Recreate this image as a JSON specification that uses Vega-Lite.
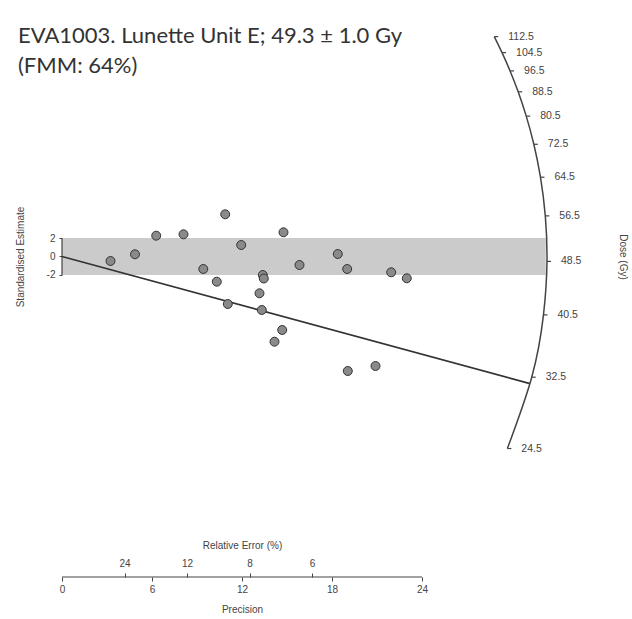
{
  "$schema": "https://vega.github.io/schema/vega-lite/v6.json",
  "width": 570,
  "height": 577,
  "autosize": "none",
  "padding": {"left": 62, "top": 0, "right": 0, "bottom": 42},
  "background": "white",
  "config": {"view": {"stroke": null}, "font": "Liberation Sans"},
  "title": {
    "text": ["EVA1003. Lunette Unit E; 49.3 ± 1.0 Gy", "(FMM: 64%)"],
    "anchor": "start",
    "frame": "group",
    "orient": "top",
    "offset": -95,
    "dx": -44,
    "font": "Lato",
    "fontSize": 22,
    "fontWeight": "normal",
    "color": "#333333",
    "lineHeight": 30,
    "baseline": "alphabetic"
  },
  "datasets": {
    "band": [{"p0": 0, "p1": 32.25, "z0": -2, "z1": 2}],
    "yline": [{"p": 0, "zlo": -2, "zhi": 2}],
    "xline": [{"from": 0, "to": 24}],
    "central": [{"precision": 0, "estimate": 0}, {"precision": 31.2, "estimate": -13.74}],
    "arc": [
      {"dose": 24.5, "precision": 29.691, "estimate": -20.759},
      {"dose": 32.5, "precision": 31.316, "estimate": -13.049},
      {"dose": 40.5, "precision": 32.098, "estimate": -6.311},
      {"dose": 48.5, "precision": 32.332, "estimate": -0.529},
      {"dose": 56.5, "precision": 32.220, "estimate": 4.392},
      {"dose": 64.5, "precision": 31.898, "estimate": 8.572},
      {"dose": 72.5, "precision": 31.456, "estimate": 12.132},
      {"dose": 80.5, "precision": 30.949, "estimate": 15.175},
      {"dose": 88.5, "precision": 30.412, "estimate": 17.806},
      {"dose": 96.5, "precision": 29.872, "estimate": 20.063},
      {"dose": 104.5, "precision": 29.336, "estimate": 22.043},
      {"dose": 112.5, "precision": 28.818, "estimate": 23.776}
    ],
    "aliquots": [
      {"precision": 3.233, "estimate": -0.486},
      {"precision": 4.867, "estimate": 0.238},
      {"precision": 6.280, "estimate": 2.249},
      {"precision": 8.100, "estimate": 2.400},
      {"precision": 9.420, "estimate": -1.351},
      {"precision": 10.320, "estimate": -2.724},
      {"precision": 10.880, "estimate": 4.562},
      {"precision": 11.053, "estimate": -5.135},
      {"precision": 11.947, "estimate": 1.243},
      {"precision": 13.167, "estimate": -3.978},
      {"precision": 13.387, "estimate": -2.0},
      {"precision": 13.453, "estimate": -2.378},
      {"precision": 13.320, "estimate": -5.784},
      {"precision": 14.767, "estimate": 2.616},
      {"precision": 14.680, "estimate": -7.946},
      {"precision": 14.167, "estimate": -9.211},
      {"precision": 15.833, "estimate": -0.919},
      {"precision": 18.387, "estimate": 0.270},
      {"precision": 19.013, "estimate": -1.351},
      {"precision": 19.053, "estimate": -12.378},
      {"precision": 20.900, "estimate": -11.838},
      {"precision": 21.947, "estimate": -1.708},
      {"precision": 22.987, "estimate": -2.357}
    ]
  },
  "resolve": {"axis": {"x": "independent", "y": "independent"}},
  "layer": [
    {
      "data": {"name": "band"},
      "mark": {"type": "rect", "color": "#cbcbcb"},
      "encoding": {
        "x": {
          "field": "p0", "type": "quantitative",
          "scale": {"domain": [0, 38], "nice": false, "zero": false},
          "axis": {
            "orient": "bottom", "values": [0, 6, 12, 18, 24], "domain": false, "grid": false,
            "ticks": true, "tickSize": 4, "tickColor": "#444444", "tickWidth": 1,
            "labelFontSize": 10, "labelColor": "#444444", "labelPadding": 3, "labelFlush": false,
            "title": "Precision", "titleFontSize": 10, "titleFontWeight": "normal", "titleColor": "#444444",
            "titleX": 180, "titleY": 32, "titleBaseline": "middle", "titleAlign": "center"
          }
        },
        "x2": {"field": "p1"},
        "y": {
          "field": "z0", "type": "quantitative",
          "scale": {"domain": [-34.649, 27.730], "nice": false, "zero": false},
          "axis": {
            "orient": "left", "values": [-2, 0, 2], "domain": false, "grid": false,
            "tickSize": 3, "tickColor": "#444444", "labelExpr": "toString(datum.value)",
            "labelFontSize": 10, "labelColor": "#444444", "labelPadding": 4,
            "title": "Standardised Estimate", "titleFontSize": 10, "titleFontWeight": "normal", "titleColor": "#444444",
            "titleX": -42, "titleY": 256.5, "titleBaseline": "middle", "titleAlign": "center", "titleAngle": 270
          }
        },
        "y2": {"field": "z1"}
      }
    },
    {
      "data": {"name": "yline"},
      "mark": {"type": "rule", "color": "#444444", "strokeWidth": 1.2},
      "encoding": {
        "x": {"field": "p", "type": "quantitative", "scale": {"domain": [0, 38], "nice": false, "zero": false}, "axis": null},
        "y": {"field": "zlo", "type": "quantitative", "scale": {"domain": [-34.649, 27.730], "nice": false, "zero": false}, "axis": null},
        "y2": {"field": "zhi"}
      }
    },
    {
      "data": {"name": "xline"},
      "mark": {"type": "rule", "color": "#444444", "strokeWidth": 1.2},
      "encoding": {
        "x": {
          "field": "from", "type": "quantitative",
          "scale": {"domain": [0, 38], "nice": false, "zero": false},
          "axis": {
            "orient": "bottom", "values": [4.16667, 8.33333, 12.5, 16.66667],
            "labelExpr": "toString(round(100 / datum.value))",
            "domain": false, "grid": false, "ticks": true, "tickSize": -4, "tickColor": "#444444",
            "labelFontSize": 10, "labelColor": "#444444", "labelPadding": -10, "labelBaseline": "middle", "labelFlush": false,
            "title": "Relative Error (%)", "titleFontSize": 10, "titleFontWeight": "normal", "titleColor": "#444444",
            "titleX": 180, "titleY": -32, "titleBaseline": "middle", "titleAlign": "center"
          }
        },
        "x2": {"field": "to"},
        "y": {"datum": -34.649, "type": "quantitative", "scale": {"domain": [-34.649, 27.730], "nice": false, "zero": false}, "axis": null}
      }
    },
    {
      "data": {"name": "central"},
      "mark": {"type": "line", "color": "#333333", "strokeWidth": 1.8},
      "encoding": {
        "x": {"field": "precision", "type": "quantitative", "scale": {"domain": [0, 38], "nice": false, "zero": false}, "axis": null},
        "y": {"field": "estimate", "type": "quantitative", "scale": {"domain": [-34.649, 27.730], "nice": false, "zero": false}, "axis": null}
      }
    },
    {
      "data": {"name": "arc"},
      "mark": {"type": "line", "color": "#444444", "strokeWidth": 1.5, "interpolate": "natural"},
      "encoding": {
        "x": {"field": "precision", "type": "quantitative", "scale": {"domain": [0, 38], "nice": false, "zero": false}, "axis": null},
        "y": {"field": "estimate", "type": "quantitative", "scale": {"domain": [-34.649, 27.730], "nice": false, "zero": false}, "axis": null},
        "order": {"field": "dose", "type": "quantitative"}
      }
    },
    {
      "data": {"name": "arc"},
      "mark": {"type": "point", "shape": "M0,0L1,0", "size": 64, "filled": false, "color": "#444444", "strokeWidth": 1.2, "opacity": 1},
      "encoding": {
        "x": {"field": "precision", "type": "quantitative", "scale": {"domain": [0, 38], "nice": false, "zero": false}, "axis": null},
        "y": {"field": "estimate", "type": "quantitative", "scale": {"domain": [-34.649, 27.730], "nice": false, "zero": false}, "axis": null}
      }
    },
    {
      "data": {"name": "arc"},
      "mark": {"type": "text", "align": "left", "baseline": "middle", "dx": 14, "fontSize": 10.5, "color": "#444444"},
      "encoding": {
        "x": {"field": "precision", "type": "quantitative", "scale": {"domain": [0, 38], "nice": false, "zero": false}, "axis": null},
        "y": {
          "field": "estimate", "type": "quantitative",
          "scale": {"domain": [-34.649, 27.730], "nice": false, "zero": false},
          "axis": {
            "orient": "right", "ticks": false, "labels": false, "domain": false, "grid": false,
            "title": "Dose (Gy)", "titleFontSize": 10, "titleFontWeight": "normal", "titleColor": "#444444",
            "titleX": -10, "titleY": 256.5, "titleBaseline": "middle", "titleAlign": "center", "titleAngle": 90
          }
        },
        "text": {"field": "dose", "type": "quantitative", "format": ".1f"}
      }
    },
    {
      "data": {"name": "aliquots"},
      "mark": {"type": "point", "filled": true, "fill": "#8a8a8a", "stroke": "#333333", "strokeWidth": 1, "size": 80, "opacity": 1},
      "encoding": {
        "x": {"field": "precision", "type": "quantitative", "scale": {"domain": [0, 38], "nice": false, "zero": false}, "axis": null},
        "y": {"field": "estimate", "type": "quantitative", "scale": {"domain": [-34.649, 27.730], "nice": false, "zero": false}, "axis": null}
      }
    }
  ]
}
